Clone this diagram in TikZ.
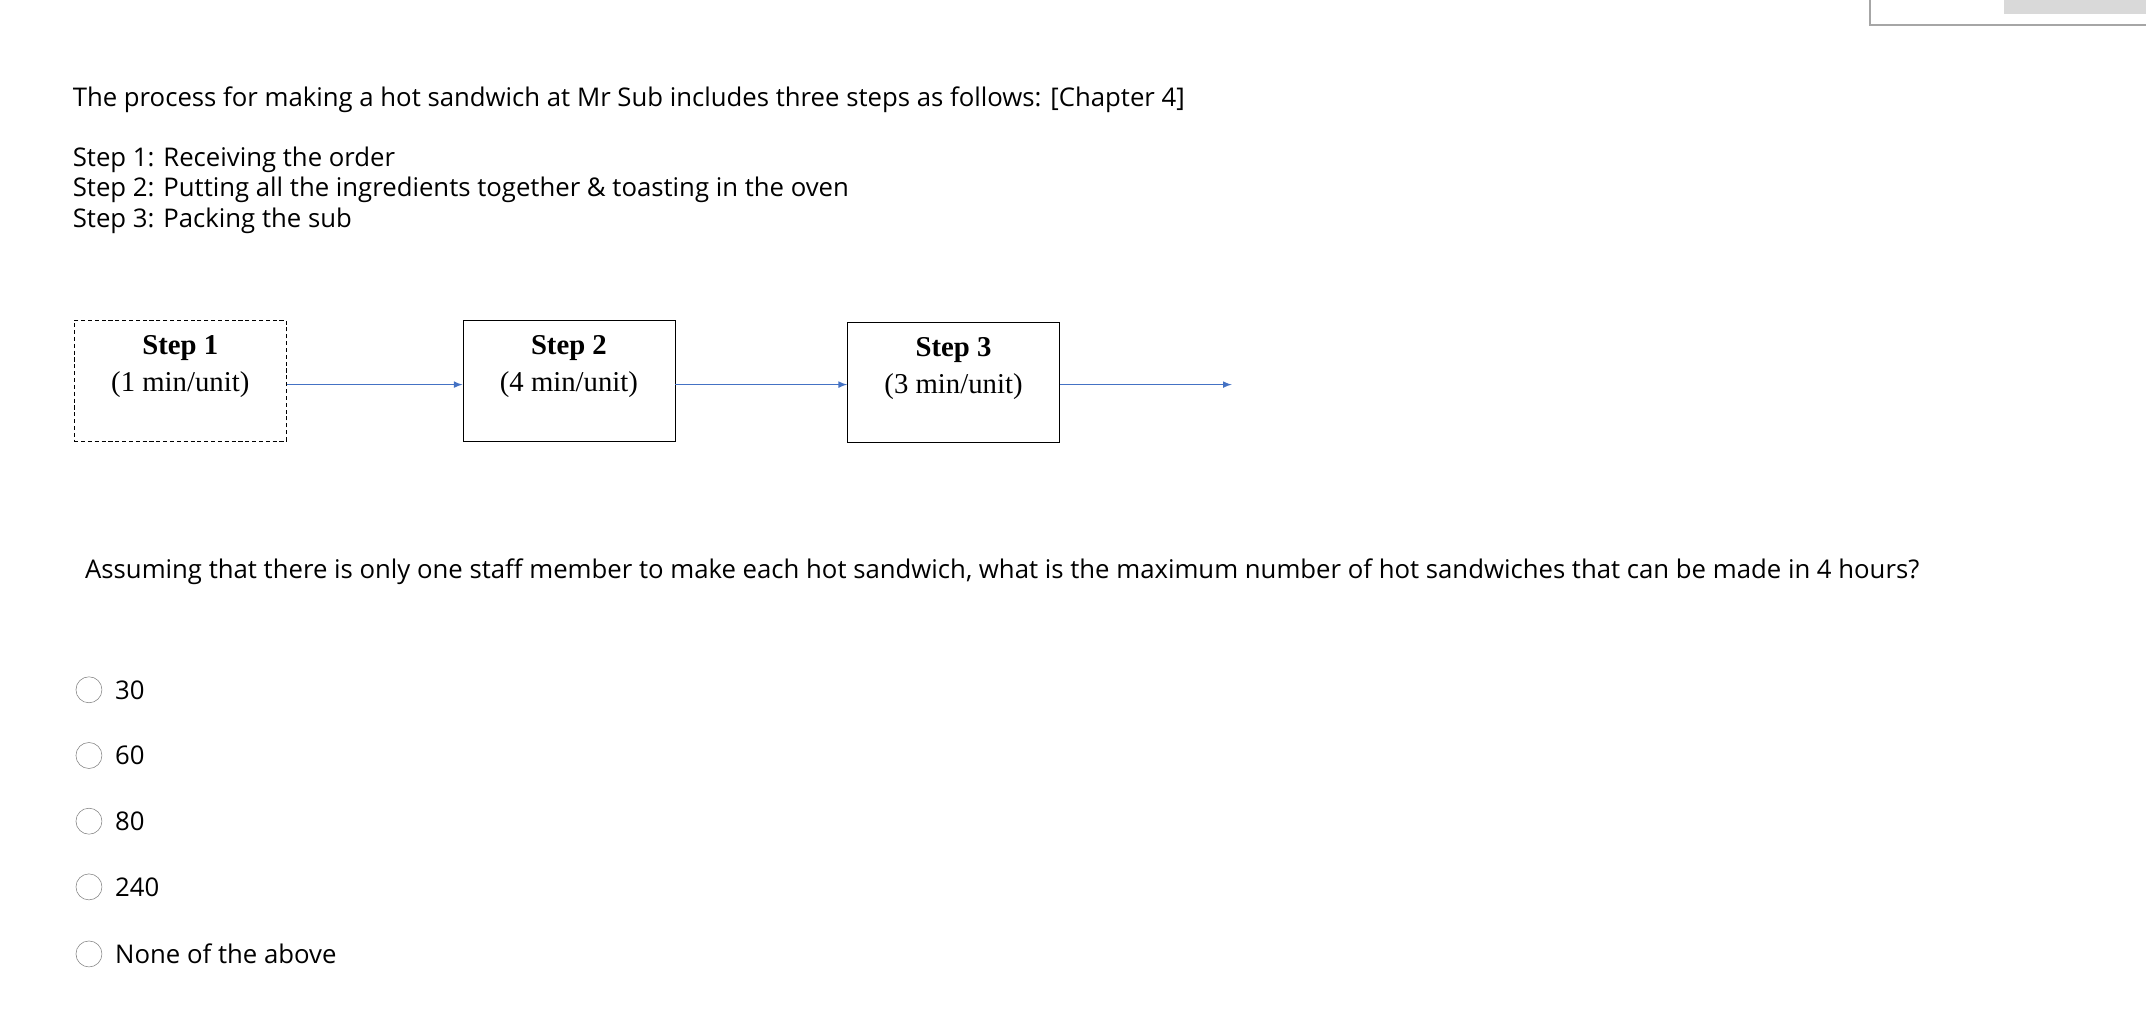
\documentclass[tikz,border=0pt]{standalone}
\usepackage{fontspec}
\setmainfont{Open Sans}
\newfontfamily\tms{Liberation Serif}
\definecolor{flowc}{HTML}{4472C4}
\begin{document}
\begin{tikzpicture}[x=1pt,y=-1pt,
  txt/.style={anchor=west,inner sep=0pt,font=\fontsize{18.8}{22}\selectfont},
  stepbox/.style={draw,minimum width=155pt,minimum height=88pt,anchor=north west,inner sep=0pt},
  steptxt/.style={inner sep=0pt,align=center,font=\tms\fontsize{21}{27}\selectfont},
  flow/.style={draw=flowc,line width=1.2pt,-latex},
  opt/.style={draw=gray,circle,minimum size=19pt,inner sep=0pt}]
\useasboundingbox (0,0) rectangle (1568,748);
\draw[gray!70,line width=1.5pt] (1366,-2) -- (1366,18) -- (1570,18);
\fill[gray!30] (1464,0) rectangle (1568,10);
\node[txt] (t0) at (53,73) {The process for making a hot sandwich at Mr Sub includes three steps as follows: [Chapter 4]};
\node[txt] (t1) at (53,117) {Step 1: Receiving the order};
\node[txt] (t2) at (53,139) {Step 2: Putting all the ingredients together \& toasting in the oven};
\node[txt] (t3) at (53,161) {Step 3: Packing the sub};
\node[stepbox,densely dashed] (s1) at (54,234) {};
\node[stepbox] (s2) at (338,234) {};
\node[stepbox] (s3) at (619,235) {};
\node[steptxt] (l1) at (s1.center |- 0,268) {\textbf{Step 1}\\(1 min/unit)};
\node[steptxt] (l2) at (s2.center |- 0,268) {\textbf{Step 2}\\(4 min/unit)};
\node[steptxt] (l3) at (s3.center |- 0,269) {\textbf{Step 3}\\(3 min/unit)};
\coordinate (end) at (900,281);
\draw[flow] (s1.east |- 0,281) -- (s2.west |- 0,281);
\draw[flow] (s2.east |- 0,281) -- (s3.west |- 0,281);
\draw[flow] (s3.east |- 0,281) -- (end);
\node[txt] (q) at (62,418) {Assuming that there is only one staff member to make each hot sandwich, what is the maximum number of hot sandwiches that can be made in 4 hours?};
\foreach \y/\l [count=\i] in {504/30,552/60,600/80,648/240,697/None of the above}{
  \node[opt] (c\i) at (65,\y) {};
  \node[txt] (o\i) at (84,\y) {\l};
}
\end{tikzpicture}
\end{document}
